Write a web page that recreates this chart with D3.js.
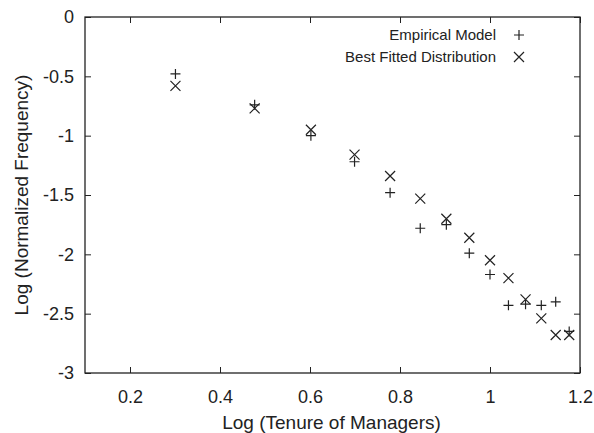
<!DOCTYPE html>
<html>
<head>
<meta charset="utf-8">
<script src="https://cdn.jsdelivr.net/npm/d3@7"></script>
<style>
  body { margin: 0; background: #fff; }
  svg { display: block; font-family: "Liberation Sans", Arial, sans-serif; }
</style>
</head>
<body>
<svg id="chart" width="594" height="433"></svg>
<script>
// log10 of tenure 2..15 years
var tenureLog = [0.301, 0.477, 0.602, 0.699, 0.778, 0.845, 0.903, 0.954, 1.0, 1.041, 1.079, 1.114, 1.146, 1.176];
var empirical = [-0.48, -0.74, -1.0, -1.22, -1.48, -1.78, -1.75, -1.99, -2.17, -2.43, -2.42, -2.43, -2.40, -2.65];
var fitted    = [-0.58, -0.77, -0.95, -1.16, -1.34, -1.53, -1.70, -1.86, -2.05, -2.20, -2.38, -2.54, -2.68, -2.68];
var xTicks = [0.2, 0.4, 0.6, 0.8, 1, 1.2];
var yTicks = [0, -0.5, -1, -1.5, -2, -2.5, -3];
var legendLabels = ["Empirical Model", "Best Fitted Distribution"];

var svg = d3.select("#chart");
// plot box (don't call it "top", window.top is read-only)
var boxL = 85, boxR = 580, boxT = 17, boxB = 373;
var ink = "#222";

var x = d3.scaleLinear().domain([0.1, 1.2]).range([boxL, boxR]);
var y = d3.scaleLinear().domain([-3, 0]).range([boxB, boxT]);

// plain hyphen, not the unicode minus d3.format gives
function plain(d) { return String(d); }

function styleAxis(g) {
  g.select(".domain").remove();
  g.selectAll(".tick line").attr("stroke", ink).attr("stroke-width", 1);
  g.selectAll(".tick text").attr("fill", ink).style("font-size", "18px");
}

// bottom and left with labels, top and right mirrored ticks only
svg.append("g")
  .attr("transform", "translate(0," + boxB + ")")
  .call(d3.axisBottom(x).tickValues(xTicks).tickSize(-6).tickPadding(17).tickFormat(plain))
  .call(styleAxis);
svg.append("g")
  .attr("transform", "translate(0," + boxT + ")")
  .call(d3.axisTop(x).tickValues(xTicks).tickSize(-6).tickFormat(""))
  .call(styleAxis);
svg.append("g")
  .attr("transform", "translate(" + boxL + ",0)")
  .call(d3.axisLeft(y).tickValues(yTicks).tickSize(-6).tickPadding(11).tickFormat(plain))
  .call(styleAxis);
svg.append("g")
  .attr("transform", "translate(" + boxR + ",0)")
  .call(d3.axisRight(y).tickValues(yTicks).tickSize(-6).tickFormat(""))
  .call(styleAxis);

svg.append("rect")
  .attr("x", boxL).attr("y", boxT)
  .attr("width", boxR - boxL).attr("height", boxB - boxT)
  .attr("fill", "none").attr("stroke", ink).attr("stroke-width", 1.3);

// axis titles
svg.append("text")
  .attr("x", (boxL + boxR) / 2 - 1).attr("y", 429)
  .attr("text-anchor", "middle").attr("fill", ink)
  .style("font-size", "19px")
  .text("Log (Tenure of Managers)");
svg.append("text")
  .attr("transform", "translate(28," + ((boxT + boxB) / 2) + ") rotate(-90)")
  .attr("text-anchor", "middle").attr("fill", ink)
  .style("font-size", "19px")
  .text("Log (Normalized Frequency)");

var s = 5;
function plus(g) {
  g.append("path").attr("d", "M" + (-s) + ",0H" + s + "M0," + (-s) + "V" + s)
    .attr("stroke", ink).attr("stroke-width", 1.2).attr("fill", "none");
}
function cross(g) {
  g.append("path").attr("d", "M" + (-s) + "," + (-s) + "L" + s + "," + s + "M" + (-s) + "," + s + "L" + s + "," + (-s))
    .attr("stroke", ink).attr("stroke-width", 1.2).attr("fill", "none");
}

svg.append("g").selectAll("g")
  .data(tenureLog.map(function(d, i) { return [d, empirical[i]]; }))
  .join("g")
  .attr("transform", function(d) { return "translate(" + x(d[0]) + "," + y(d[1]) + ")"; })
  .each(function() { plus(d3.select(this)); });

svg.append("g").selectAll("g")
  .data(tenureLog.map(function(d, i) { return [d, fitted[i]]; }))
  .join("g")
  .attr("transform", function(d) { return "translate(" + x(d[0]) + "," + y(d[1]) + ")"; })
  .each(function() { cross(d3.select(this)); });

// legend
var legend = svg.append("g");
legendLabels.forEach(function(label, i) {
  var ly = 35 + i * 22;
  legend.append("text")
    .attr("x", 496).attr("y", ly).attr("dy", "0.35em")
    .attr("text-anchor", "end").attr("fill", ink)
    .style("font-size", "15px")
    .text(label);
  var m = legend.append("g").attr("transform", "translate(519," + ly + ")");
  if (i === 0) plus(m); else cross(m);
});
</script>
</body>
</html>
